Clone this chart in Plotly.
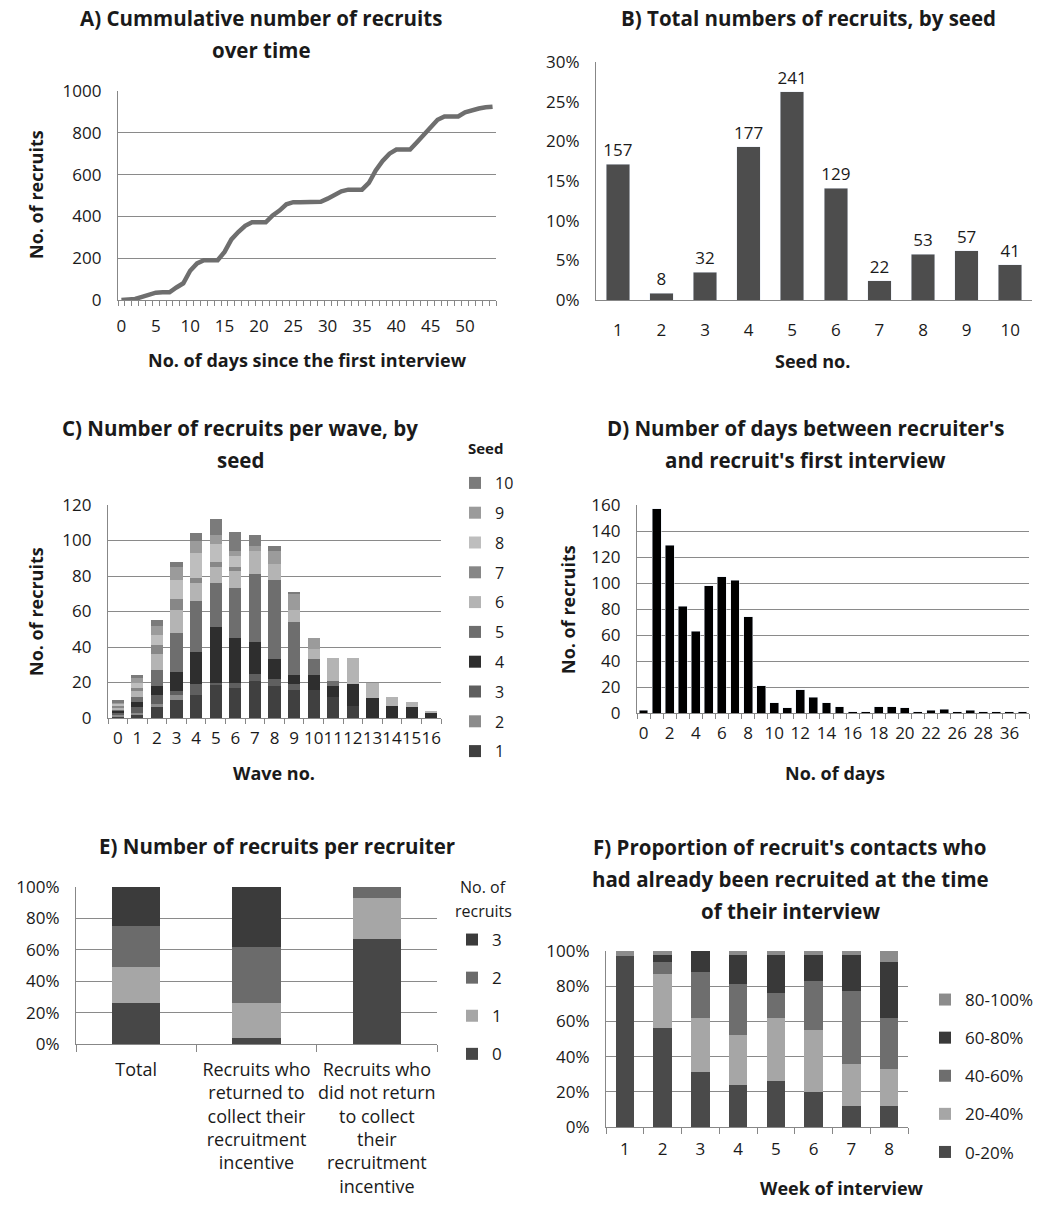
import plotly.graph_objects as go

W, H = 1039, 1211
FONT = "Open Sans"
TXT = "#1a1a1a"
AXC = "#878787"
GRC = "#8a8a8a"

def fx(p):
    return p / W

def fy(p):
    return 1 - p / H

# ---------------- DATA ----------------
# A) cumulative recruits over time
days_a = list(range(55))
cum_recruits = [0, 2, 5, 15, 25, 35, 37, 37, 60, 80,
                140, 175, 190, 190, 190, 230, 290, 325, 355, 372,
                372, 372, 405, 428, 458, 468, 468, 468, 468, 470,
                485, 503, 520, 528, 528, 528, 560, 620, 665, 700,
                720, 720, 720, 755, 790, 825, 862, 878, 878, 878,
                898, 908, 916, 922, 925]

# B) total recruits by seed
seeds = ["1", "2", "3", "4", "5", "6", "7", "8", "9", "10"]
seed_totals = [157, 8, 32, 177, 241, 129, 22, 53, 57, 41]

# C) recruits per wave by seed
waves = [str(i) for i in range(17)]
wave_seed1 = [1, 2, 6, 10, 13, 19, 17, 21, 18, 16, 16, 12, 7, 0, 0, 0, 0]
wave_seed2 = [1, 1, 2, 3, 0, 0, 0, 0, 0, 0, 0, 0, 0, 0, 0, 0, 0]
wave_seed3 = [1, 3, 5, 2, 6, 1, 3, 4, 4, 3, 0, 0, 0, 0, 0, 0, 0]
wave_seed4 = [1, 3, 5, 11, 18, 31, 25, 18, 11, 5, 8, 6, 12, 11, 7, 6, 3]
wave_seed5 = [1, 3, 9, 22, 29, 25, 28, 38, 45, 30, 9, 3, 0, 0, 0, 0, 0]
wave_seed6 = [1, 3, 9, 13, 10, 9, 10, 13, 9, 7, 6, 13, 15, 9, 5, 3, 1]
wave_seed7 = [1, 2, 5, 6, 3, 3, 2, 0, 0, 0, 0, 0, 0, 0, 0, 0, 0]
wave_seed8 = [1, 3, 6, 11, 14, 10, 6, 0, 0, 0, 0, 0, 0, 0, 0, 0, 0]
wave_seed9 = [1, 3, 5, 7, 7, 5, 3, 3, 7, 9, 6, 0, 0, 0, 0, 0, 0]
wave_seed10 = [1, 1, 3, 3, 4, 9, 11, 6, 3, 1, 0, 0, 0, 0, 0, 0, 0]
seed_colors = ["#404040", "#8c8c8c", "#5f5f5f", "#2e2e2e", "#6e6e6e",
               "#b4b4b4", "#878787", "#bebebe", "#9b9b9b", "#7b7b7b"]

# D) days between recruiter's and recruit's interview
gap_days = [str(d) for d in list(range(23)) + [24, 26, 27, 28, 30, 36, 41]]
gap_counts = [2, 157, 129, 82, 63, 98, 105, 102, 74, 21,
              8, 4, 18, 12, 8, 5, 1, 1, 5, 5,
              4, 1, 2, 3, 1, 2, 1, 1, 1, 1]

# E) recruits per recruiter (%)
e_groups = ["Total",
            "Recruits who<br>returned to<br>collect their<br>recruitment<br>incentive",
            "Recruits who<br>did not return<br>to collect<br>their<br>recruitment<br>incentive"]
e_n0 = [26, 4, 67]
e_n1 = [23, 22, 26]
e_n2 = [26, 36, 7]
e_n3 = [25, 38, 0]
e_names = ["0", "1", "2", "3"]
e_colors = ["#474747", "#a6a6a6", "#6b6b6b", "#3b3b3b"]

# F) proportion of contacts already recruited (%)
weeks = ["1", "2", "3", "4", "5", "6", "7", "8"]
f_0_20 = [97, 56, 31, 24, 26, 20, 12, 12]
f_20_40 = [0, 31, 31, 28, 36, 35, 24, 21]
f_40_60 = [0, 7, 26, 29, 14, 28, 41, 29]
f_60_80 = [0, 4, 12, 17, 22, 15, 21, 32]
f_80_100 = [3, 2, 0, 2, 2, 2, 2, 6]
f_names = ["0-20%", "20-40%", "40-60%", "60-80%", "80-100%"]
f_colors = ["#4a4a4a", "#a6a6a6", "#6e6e6e", "#393939", "#8c8c8c"]

# ---------------- FIGURE ----------------
fig = go.Figure()

# A
fig.add_trace(go.Scatter(x=[str(d) for d in days_a], y=cum_recruits, mode="lines",
                         line=dict(color="#6e6e6e", width=4.5), showlegend=False,
                         xaxis="x", yaxis="y"))

# B
total_b = sum(seed_totals)
fig.add_trace(go.Bar(x=seeds, y=[v / total_b for v in seed_totals], width=0.54,
                     marker=dict(color="#4d4d4d"), text=[str(v) for v in seed_totals],
                     textposition="outside", constraintext="none",
                     textfont=dict(size=17, color=TXT, family=FONT),
                     cliponaxis=False, showlegend=False, xaxis="x2", yaxis="y2"))

# C
c_series = [wave_seed1, wave_seed2, wave_seed3, wave_seed4, wave_seed5,
            wave_seed6, wave_seed7, wave_seed8, wave_seed9, wave_seed10]
nC = len(c_series)
for i, vals in enumerate(c_series):
    fig.add_trace(go.Bar(x=waves, y=vals, name=seeds[i], width=0.62,
                         marker=dict(color=seed_colors[i], line=dict(width=0)),
                         legend="legend", legendgroup="c" + seeds[i], legendrank=nC - i,
                         xaxis="x3", yaxis="y3"))

# D
fig.add_trace(go.Bar(x=gap_days, y=gap_counts, width=0.68, marker=dict(color="#000000"),
                     showlegend=False, xaxis="x4", yaxis="y4"))

# E
e_series = [e_n0, e_n1, e_n2, e_n3]
for i, (name, vals, col) in enumerate(zip(e_names, e_series, e_colors)):
    fig.add_trace(go.Bar(x=e_groups, y=vals, name=name, width=0.4,
                         marker=dict(color=col, line=dict(width=0)),
                         legend="legend2", legendgroup="e" + name,
                         legendrank=len(e_series) - i,
                         xaxis="x5", yaxis="y5"))

# F
f_series = [f_0_20, f_20_40, f_40_60, f_60_80, f_80_100]
for i, (name, vals, col) in enumerate(zip(f_names, f_series, f_colors)):
    fig.add_trace(go.Bar(x=weeks, y=vals, name=name, width=0.49,
                         marker=dict(color=col, line=dict(width=0)),
                         legend="legend3", legendgroup="f" + name,
                         legendrank=len(f_series) - i,
                         xaxis="x6", yaxis="y6"))

tickfont = dict(family=FONT, size=17, color=TXT)

def xcat(domain, anchor, **kw):
    d = dict(domain=domain, anchor=anchor, type="category", showline=True, linecolor=AXC,
             linewidth=1.3, showgrid=False, tickfont=tickfont, tickangle=0, zeroline=False,
             fixedrange=True)
    d.update(kw)
    return d

def ylin(domain, anchor, **kw):
    d = dict(domain=domain, anchor=anchor, showline=True, linecolor=AXC, linewidth=1.3,
             showgrid=True, gridcolor=GRC, gridwidth=1.4, tickfont=tickfont, zeroline=False,
             ticks="", ticklabelstandoff=12, fixedrange=True)
    d.update(kw)
    return d

a_cats = [str(d) for d in days_a]
a_text = [c if int(c) % 5 == 0 and int(c) <= 50 else "" for c in a_cats]
d_text = [c if i % 2 == 0 else "" for i, c in enumerate(gap_days)]

legfont = dict(family=FONT, size=17, color=TXT)

fig.update_layout(
    width=W, height=H, margin=dict(l=0, r=0, t=0, b=0, autoexpand=False),
    paper_bgcolor="white", plot_bgcolor="white", barmode="stack",
    font=dict(family=FONT, color=TXT, size=17),
    xaxis=xcat([fx(118), fx(496)], "y", tickmode="array", tickvals=a_cats, ticktext=a_text,
               tickson="boundaries", ticks="outside", ticklen=5, tickcolor=AXC,
               ticklabelstandoff=10, range=[-0.5, len(a_cats) - 0.5]),
    yaxis=ylin([fy(300), fy(91)], "x", range=[0, 1000], dtick=200),
    xaxis2=xcat([fx(596), fx(1032)], "y2", ticks="", ticklabelstandoff=14),
    yaxis2=ylin([fy(300), fy(62)], "x2", range=[0, 0.30], dtick=0.05, tickformat=".0%",
                showgrid=False),
    xaxis3=xcat([fx(108), fx(441)], "y3", tickson="boundaries", ticks="outside", ticklen=5,
                tickcolor=AXC, ticklabelstandoff=4, dtick=1),
    yaxis3=ylin([fy(718), fy(505)], "x3", range=[0, 120], dtick=20),
    xaxis4=xcat([fx(637), fx(1029)], "y4", tickmode="array", tickvals=gap_days, ticktext=d_text,
                tickson="boundaries", ticks="outside", ticklen=5, tickcolor=AXC,
                ticklabelstandoff=4),
    yaxis4=ylin([fy(713), fy(505)], "x4", range=[0, 160], dtick=20),
    xaxis5=xcat([fx(76), fx(437)], "y5", tickson="boundaries", ticks="outside", ticklen=7,
                tickcolor=AXC, ticklabelstandoff=9,
                tickfont=dict(family=FONT, size=18, color=TXT)),
    yaxis5=ylin([fy(1044), fy(887)], "x5", range=[0, 100], dtick=20, ticksuffix="%"),
    xaxis6=xcat([fx(606), fx(908)], "y6", tickson="boundaries", ticks="outside", ticklen=6,
                tickcolor=AXC, ticklabelstandoff=6),
    yaxis6=ylin([fy(1127), fy(951)], "x6", range=[0, 100], dtick=20, ticksuffix="%"),
    legend=dict(x=fx(455), y=fy(466), xanchor="left", yanchor="top", traceorder="grouped",
                tracegroupgap=6, font=dict(family=FONT, size=16, color=TXT),
                bgcolor="rgba(0,0,0,0)", itemwidth=30),
    legend2=dict(x=fx(452), y=fy(922), xanchor="left", yanchor="top", traceorder="grouped",
                 tracegroupgap=13, font=legfont,
                 bgcolor="rgba(0,0,0,0)", itemwidth=30),
    legend3=dict(x=fx(925), y=fy(982), xanchor="left", yanchor="top", traceorder="grouped",
                 tracegroupgap=13, font=legfont,
                 bgcolor="rgba(0,0,0,0)", itemwidth=30),
)

def ann(text, x, y, size=17, bold=False, angle=0, xanchor="center"):
    t = "<b>" + text + "</b>" if bold else text
    fig.add_annotation(text=t, x=fx(x), y=fy(y), xref="paper", yref="paper",
                       xanchor=xanchor, yanchor="middle", showarrow=False, textangle=angle,
                       font=dict(family=FONT, size=size, color=TXT))

TS = 20.5
# titles
ann("A) Cummulative number of recruits", 261, 18, TS, True)
ann("over time", 261, 50, TS, True)
ann("B) Total numbers of recruits, by seed", 808, 18, TS, True)
ann("C) Number of recruits per wave, by", 240, 428, TS, True)
ann("seed", 240, 460, TS, True)
ann("D) Number of days between recruiter's", 805, 428, TS, True)
ann("and recruit's first interview", 805, 460, TS, True)
ann("E) Number of recruits per recruiter", 277, 846, TS, True)
ann("F) Proportion of recruit's contacts who", 790, 847, TS, True)
ann("had already been recruited at the time", 790, 879, TS, True)
ann("of their interview", 790, 911, TS, True)

# axis titles
AS = 18
ann("No. of days since the first interview", 307, 360, AS, True)
ann("No. of recruits", 36, 195, AS, True, angle=-90)
ann("Seed no.", 812, 361, AS, True)
ann("Wave no.", 274, 773, AS, True)
ann("No. of recruits", 36, 612, AS, True, angle=-90)
ann("No. of days", 835, 773, AS, True)
ann("No. of recruits", 568, 610, AS, True, angle=-90)
ann("Week of interview", 842, 1188, AS, True)

# legend titles
ann("Seed", 485, 448, 15, True)
ann("No. of", 483, 887, 16)
ann("recruits", 483, 911, 16)

fig.write_html("out.html", config={"displayModeBar": False},
               post_script="document.body.style.margin='0px';document.body.style.padding='0px';")
